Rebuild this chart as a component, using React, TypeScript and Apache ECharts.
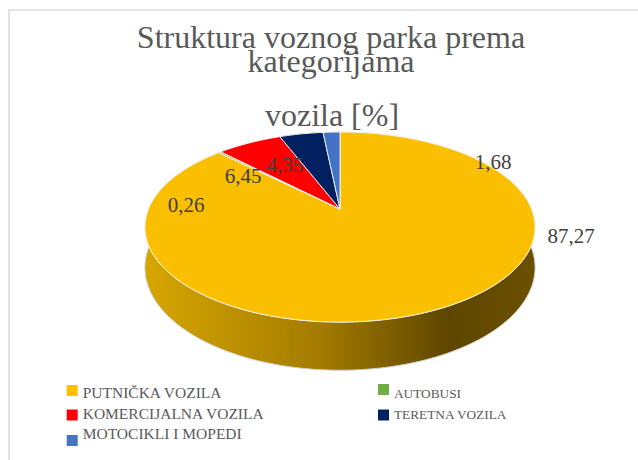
import React, { useEffect, useRef } from "react";
import * as echarts from "echarts";

// ---- data ----
const categories = [
  "PUTNIČKA VOZILA",
  "AUTOBUSI",
  "KOMERCIJALNA VOZILA",
  "TERETNA VOZILA",
  "MOTOCIKLI I MOPEDI",
];
const values = [87.27, 0.26, 6.45, 4.35, 1.68];
const titleLines = ["Struktura voznog parka prema", "kategorijama", "vozila [%]"];

// ---- styles ----
const legendColors = ["#FFC000", "#70AD47", "#FF0000", "#002060", "#4472C4"];
const topColors = ["#FABF00", "#70AD47", "#FF0000", "#002060", "#4472C4"];
const wallColors = ["#A37B00", "#4E7A30", "#B00000", "#001640", "#2F5090"];
// label anchor in pie (polar) coordinates: angle clockwise from 12 o'clock, radius fraction
const labelAngles = [103.7, 273.1, 305.4, 329.1, 57.3];
const labelRadii = [1.176, 0.812, 0.667, 0.616, 1.052];

// pie geometry (perspective projection of a tilted disc)
const CX = 340;
const CY = 209;
const RX = 191.5;
const RY = 91.6;
const K = 0.19;
const THICK = 39;

const total = values.reduce((a, b) => a + b, 0);
const starts: number[] = [];
const ends: number[] = [];
{
  let acc = 0;
  values.forEach((v) => {
    starts.push((acc / total) * 360);
    acc += v;
    ends.push((acc / total) * 360);
  });
}

function proj(deg: number, r: number, depth: number): number[] {
  const t = (deg * Math.PI) / 180;
  const u = r * Math.sin(t);
  const v = -r * Math.cos(t);
  const w = 1 - K * v;
  return [CX + (RX * u) / w, CY + (RY * v + depth * THICK) / w];
}

function arc(a0: number, a1: number, depth: number): number[][] {
  const n = Math.max(2, Math.ceil(Math.abs(a1 - a0) / 1.5));
  const pts: number[][] = [];
  for (let j = 0; j <= n; j++) {
    pts.push(proj(a0 + ((a1 - a0) * j) / n, 1, depth));
  }
  return pts;
}

const fmt = (v: number) => v.toFixed(2).replace(".", ",");

export default function App() {
  const ref = useRef<HTMLDivElement>(null);
  useEffect(() => {
    document.body.style.margin = "0";
    const chart = echarts.init(ref.current!, undefined, { renderer: "svg" });

    const wallGradient = new echarts.graphic.LinearGradient(0, 0, 1, 0, [
      { offset: 0, color: "#D6A600" },
      { offset: 0.45, color: "#A37B00" },
      { offset: 0.78, color: "#5E4600" },
      { offset: 1, color: "#6B5000" },
    ]);

    const serif = '"Liberation Serif", "Times New Roman", serif';

    const graphics: any[] = [
      {
        type: "rect",
        z: -10,
        shape: { x: 9, y: 10, width: 700, height: 520 },
        style: { fill: "#fff", stroke: "#D9D9D9", lineWidth: 1.5 },
        silent: true,
      },
      {
        type: "text",
        x: 331,
        y: 49,
        style: {
          text: titleLines[0] + "\n" + titleLines[1],
          fill: "#595959",
          fontSize: 32,
          lineHeight: 24,
          fontFamily: serif,
          align: "center",
          verticalAlign: "middle",
        },
      },
      {
        type: "text",
        x: 332,
        y: 115,
        style: { text: titleLines[2], fill: "#595959", fontSize: 32, fontFamily: serif, align: "center", verticalAlign: "middle" },
      },
    ];

    // legend (2 columns, row-major)
    const markerY = [385, 409.5, 435];
    const textY = [392, 413.7, 433.7];
    categories.forEach((name, i) => {
      const col = i % 2;
      const row = Math.floor(i / 2);
      const mx = col === 0 ? 66.7 : 378;
      const tx = col === 0 ? 82.7 : 394;
      const fs = col === 0 ? 15.5 : 13.3;
      graphics.push({
        type: "rect",
        shape: { x: mx, y: markerY[row] - (col === 1 && row === 0 ? 1 : 0), width: 11, height: 11 },
        style: { fill: legendColors[i] },
      });
      graphics.push({
        type: "text",
        x: tx,
        y: textY[row] + (col === 1 ? 1 : 0),
        style: { text: name, fill: "#595959", fontSize: fs, fontFamily: serif, align: "left", verticalAlign: "middle" },
      });
    });

    chart.setOption({
      animation: false,
      backgroundColor: "#fff",
      graphic: graphics,
      series: [
        {
          type: "custom",
          coordinateSystem: "none",
          silent: true,
          z: 1,
          data: values,
          renderItem: (params: any) => {
            const i = params.dataIndex;
            const top = arc(starts[i], ends[i], 0);
            const bottom = arc(ends[i], starts[i], 1);
            return {
              type: "polygon",
              shape: { points: top.concat(bottom) },
              style: {
                fill: i === 0 ? wallGradient : wallColors[i],
                stroke: "#D0D0D0",
                lineWidth: 1,
                lineJoin: "round",
              },
            };
          },
        },
        {
          type: "custom",
          coordinateSystem: "none",
          silent: true,
          z: 2,
          data: values,
          renderItem: (params: any) => {
            const i = params.dataIndex;
            const pts = [proj(0, 0, 0)].concat(arc(starts[i], ends[i], 0));
            return {
              type: "polygon",
              shape: { points: pts },
              style: {
                fill: topColors[i],
                stroke: "rgba(255,255,255,0.85)",
                lineWidth: 1,
                lineJoin: "round",
              },
            };
          },
        },
        {
          type: "custom",
          coordinateSystem: "none",
          silent: true,
          z: 3,
          data: values,
          renderItem: (params: any, api: any) => {
            const i = params.dataIndex;
            const p = proj(labelAngles[i], labelRadii[i], 0);
            return {
              type: "text",
              x: p[0],
              y: p[1],
              style: {
                text: fmt(api.value(0)),
                fill: "#404040",
                fontSize: 21,
                fontFamily: serif,
                align: "center",
                verticalAlign: "middle",
              },
            };
          },
        },
      ],
    });
    return () => chart.dispose();
  }, []);
  return <div ref={ref} style={{ width: 638, height: 460 }} />;
}
